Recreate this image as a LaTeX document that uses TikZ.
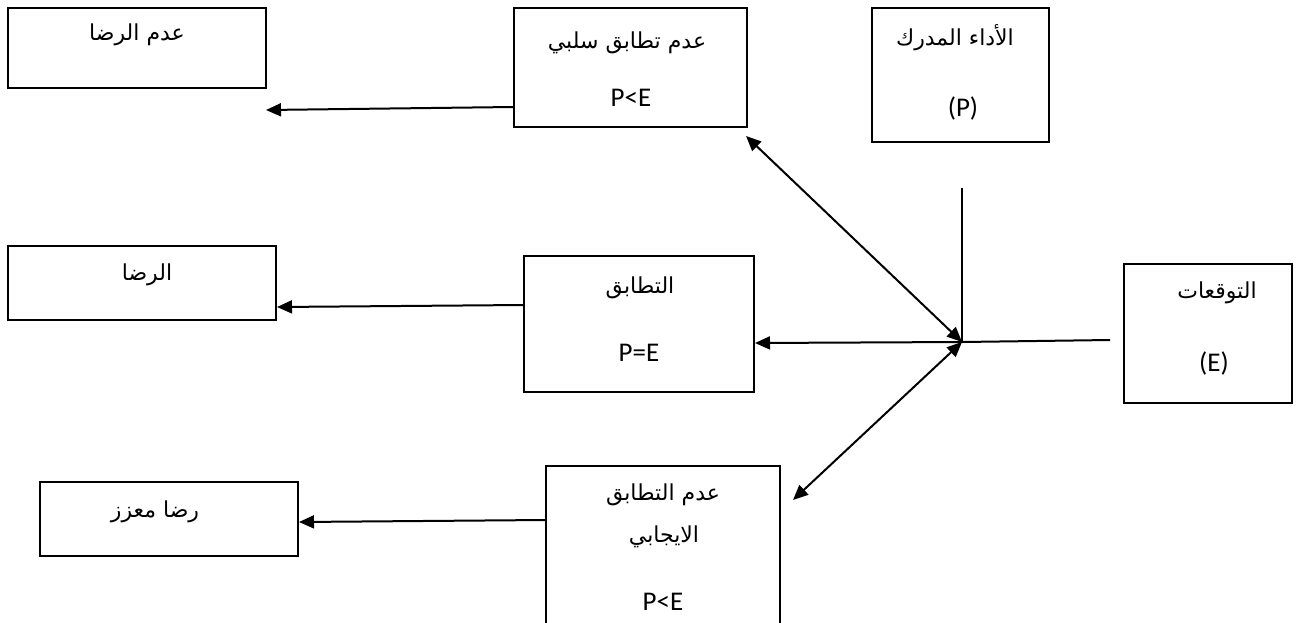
\documentclass[tikz,border=0pt]{standalone}
\usepackage{fontspec}
\setmainfont{Carlito}
\newfontfamily\arabicfont[Script=Arabic]{DejaVu Sans}
\TeXXeTstate=1
\usetikzlibrary{arrows.meta}
\tikzset{
  box/.style={draw=black, line width=2pt, rectangle, inner sep=0pt},
  ar/.style={font=\arabicfont\fontsize{22}{26}\selectfont, inner sep=0pt},
  lt/.style={font=\fontsize{27}{32}\selectfont, inner sep=0pt},
  conn/.style={line width=2pt, -{Triangle[length=15pt,width=13pt]}},
  dconn/.style={line width=2pt, {Triangle[length=15pt,width=13pt]}-{Triangle[length=15pt,width=13pt]}},
  plain/.style={line width=2pt}
}
\begin{document}
\begin{tikzpicture}[x=1pt,y=-1pt]
\useasboundingbox (0,0) rectangle (1298,622);
\clip (0,0) rectangle (1298,622);
% boxes
\node[box, minimum width=258pt, minimum height=80pt] (b1) at (137,48) {};
\node[box, minimum width=233pt, minimum height=119pt] (b2) at (630.5,67.5) {};
\node[box, minimum width=177pt, minimum height=134pt] (b3) at (960.5,75) {};
\node[box, minimum width=268pt, minimum height=74pt] (b4) at (142,283) {};
\node[box, minimum width=230pt, minimum height=136pt] (b5) at (639,324) {};
\node[box, minimum width=168pt, minimum height=139pt] (b6) at (1208,333.5) {};
\node[box, minimum width=258pt, minimum height=74pt] (b7) at (169,519) {};
\node[box, minimum width=234pt, minimum height=190pt] (b8) at (663,561) {};
% texts
\node[ar] (t1) at (137,35) {\beginR عدم الرضا\endR};
\node[ar] (t2) at (627,43) {\beginR عدم تطابق سلبي\endR};
\node[lt] (t2b) at (631,98) {P<E};
\node[ar] (t3) at (955,38) {\beginR الأداء المدرك\endR};
\node[lt] (t3b) at (963,108) {(P)};
\node[ar] (t4) at (147,275) {\beginR الرضا\endR};
\node[ar] (t5) at (640,288) {\beginR التطابق\endR};
\node[lt] (t5b) at (639,353) {P=E};
\node[ar] (t6) at (1217,293) {\beginR التوقعات\endR};
\node[lt] (t6b) at (1214,363) {(E)};
\node[ar] (t7) at (155,512) {\beginR رضا معزز\endR};
\node[ar] (t8) at (663,495) {\beginR عدم التطابق\endR};
\node[ar] (t8b) at (664,537) {\beginR الايجابي\endR};
\node[lt] (t8c) at (663,602) {P<E};
% coordinates
\coordinate (hub) at (962,342);
\coordinate (ptop) at (962,188);
\coordinate (eend) at (1110,340);
\coordinate (a1) at (266,110);
\coordinate (c2) at (746,136);
\coordinate (c8) at (793,500);
% connectors
\draw[conn] (b2.west |- 0,107) -- (a1);
\draw[conn] (b5.west |- 0,305) -- (b4.east |- 0,307);
\draw[conn] (b8.west |- 0,520) -- (b7.east |- 0,522);
\draw[plain] (ptop) -- (hub);
\draw[plain] (eend) -- (hub);
\draw[dconn] (c2) -- (hub);
\draw[conn] (hub) -- (b5.east |- 0,343);
\draw[dconn] (c8) -- (hub);
\end{tikzpicture}
\end{document}
